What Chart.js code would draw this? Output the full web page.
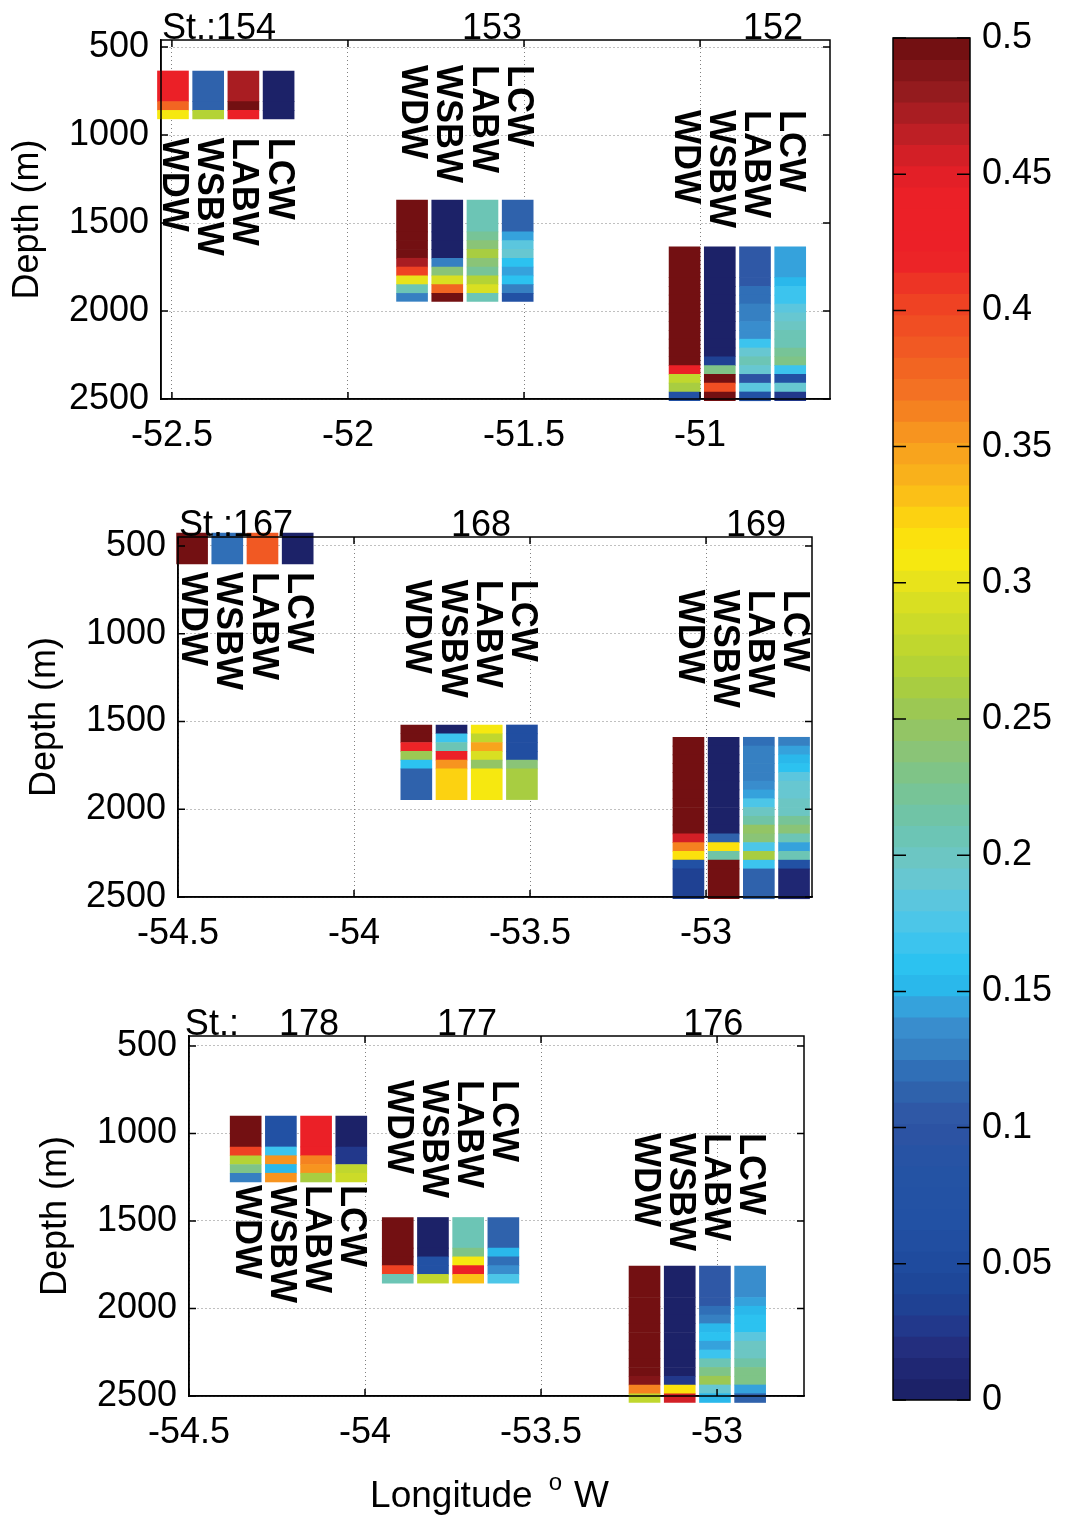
<!DOCTYPE html>
<html>
<head>
<meta charset="utf-8">
<script src="https://cdn.jsdelivr.net/npm/chart.js@4.4.1/dist/chart.umd.min.js"></script>
<style>
  body { margin: 0; background: #fff; }
  #page { position: relative; width: 1066px; height: 1515px; overflow: hidden; background: #fff; }
  canvas { position: absolute; }
</style>
</head>
<body>
<div id="page">
  <canvas id="chart-a" width="880" height="470" style="left:0px;top:0px"></canvas>
  <canvas id="chart-b" width="863" height="470" style="left:17px;top:488px"></canvas>
  <canvas id="chart-c" width="852" height="530" style="left:28px;top:985px"></canvas>
  <canvas id="chart-cb" width="186" height="1450" style="left:880px;top:0px"></canvas>
</div>
<script>
const FONT = '"Liberation Sans", Arial, Helvetica, sans-serif';

// four water-mass columns drawn side by side at each station
const waterMasses = ['WDW', 'WSBW', 'LABW', 'LCW'];
const columnSpacing = 0.1; // degrees of longitude between columns

// ---------- section A : stations 154, 153, 152 ----------
const st154Lon = -52.497;
const st154Edges = [636, 810, 860, 908];
const st154Cols = [
    [0.44, 0.375, 0.305],
    [0.11, 0.11, 0.27],
    [0.47, 0.5, 0.44],
    [0.005, 0.005, 0.005]
];
const st154LabelDepth = 1015;

const st153Lon = -51.818;
const st153Edges = [1370, 1550, 1600, 1650, 1700, 1750, 1800, 1850, 1900, 1945];
const st153Cols = [
    [0.5, 0.5, 0.5, 0.5, 0.475, 0.405, 0.3, 0.205, 0.13],
    [0.005, 0.005, 0.005, 0.005, 0.13, 0.235, 0.295, 0.38, 0.5],
    [0.205, 0.22, 0.24, 0.265, 0.235, 0.22, 0.27, 0.295, 0.205],
    [0.11, 0.145, 0.18, 0.195, 0.16, 0.145, 0.16, 0.13, 0.065]
];
const st153LabelDepth = 602;

const st152Lon = -51.044;
const st152Edges = [1635, 1810, 1860, 1910, 1960, 2010, 2060, 2110, 2160, 2210, 2260, 2310, 2360, 2410, 2460, 2510];
const st152Cols = [
    [0.5, 0.5, 0.5, 0.5, 0.5, 0.5, 0.5, 0.5, 0.5, 0.5, 0.5, 0.44, 0.28, 0.26, 0.065],
    [0.005, 0.005, 0.005, 0.005, 0.005, 0.005, 0.005, 0.005, 0.005, 0.005, 0.035, 0.23, 0.5, 0.395, 0.5],
    [0.105, 0.105, 0.12, 0.12, 0.13, 0.13, 0.14, 0.14, 0.17, 0.19, 0.21, 0.19, 0.1, 0.18, 0.065],
    [0.145, 0.155, 0.17, 0.17, 0.18, 0.19, 0.2, 0.21, 0.21, 0.225, 0.23, 0.17, 0.065, 0.19, 0.03]
];
const st152LabelDepth = 858;

// ---------- section B : stations 167, 168, 169 ----------
const st167Lon = -54.46;
const st167Edges = [426, 602];
const st167Cols = [[0.5], [0.12], [0.385], [0.005]];
const st167LabelDepth = 648;

const st168Lon = -53.823;
const st168Edges = [1520, 1570, 1620, 1670, 1720, 1770, 1945];
const st168Cols = [
    [0.5, 0.5, 0.42, 0.25, 0.16, 0.11],
    [0.005, 0.17, 0.205, 0.435, 0.355, 0.325],
    [0.31, 0.275, 0.35, 0.295, 0.245, 0.31],
    [0.06, 0.06, 0.06, 0.06, 0.235, 0.265]
];
const st168LabelDepth = 693;

const st169Lon = -53.05;
const st169Edges = [1590, 1640, 1690, 1740, 1790, 1840, 1890, 1940, 1990, 2040, 2090, 2140, 2190, 2240, 2290, 2340, 2510];
const st169Cols = [
    [0.5, 0.5, 0.5, 0.5, 0.5, 0.5, 0.5, 0.5, 0.5, 0.5, 0.5, 0.46, 0.36, 0.315, 0.065, 0.035],
    [0.005, 0.005, 0.005, 0.005, 0.005, 0.005, 0.005, 0.005, 0.005, 0.005, 0.005, 0.11, 0.315, 0.215, 0.5, 0.5],
    [0.12, 0.125, 0.125, 0.13, 0.13, 0.14, 0.145, 0.175, 0.2, 0.215, 0.245, 0.24, 0.175, 0.26, 0.17, 0.11],
    [0.13, 0.145, 0.155, 0.16, 0.18, 0.19, 0.19, 0.2, 0.2, 0.22, 0.24, 0.21, 0.145, 0.21, 0.065, 0.01]
];
const st169LabelDepth = 750;

// ---------- section C : stations 178, 177, 176 ----------
const st178Lon = -54.339;
const st178Edges = [900, 1077, 1127, 1177, 1227, 1277];
const st178Cols = [
    [0.5, 0.405, 0.27, 0.23, 0.125],
    [0.07, 0.17, 0.355, 0.155, 0.355],
    [0.445, 0.43, 0.36, 0.355, 0.26],
    [0.005, 0.03, 0.025, 0.275, 0.285]
];
const st178LabelDepth = 1294;

const st177Lon = -53.907;
const st177Edges = [1480, 1655, 1705, 1755, 1805, 1855];
const st177Cols = [
    [0.5, 0.5, 0.5, 0.405, 0.21],
    [0.005, 0.005, 0.065, 0.065, 0.28],
    [0.205, 0.23, 0.31, 0.43, 0.33],
    [0.11, 0.155, 0.12, 0.14, 0.175]
];
const st177LabelDepth = 694;

const st176Lon = -53.206;
const st176Edges = [1757, 1937, 1987, 2037, 2087, 2137, 2187, 2237, 2287, 2337, 2387, 2437, 2487, 2537];
const st176Cols = [
    [0.5, 0.5, 0.5, 0.5, 0.5, 0.5, 0.5, 0.5, 0.5, 0.5, 0.485, 0.36, 0.28],
    [0.005, 0.005, 0.005, 0.005, 0.005, 0.005, 0.005, 0.005, 0.005, 0.005, 0.03, 0.315, 0.46],
    [0.105, 0.105, 0.12, 0.13, 0.155, 0.16, 0.145, 0.17, 0.205, 0.23, 0.25, 0.19, 0.155],
    [0.135, 0.145, 0.155, 0.16, 0.16, 0.18, 0.2, 0.2, 0.215, 0.23, 0.23, 0.145, 0.11]
];
const st176LabelDepth = 997;

// station names written along the top of each section
const headersA = ['St.:154', '153', '152'];
const headersALon = [-52.366, -51.591, -50.793];
const headersB = ['St.:167', '168', '169'];
const headersBLon = [-54.335, -53.639, -52.858];
const headersC = ['St.:', '178', '177', '176'];
const headersCLon = [-54.435, -54.159, -53.71, -53.011];

// axis ticks
const depthTicks = [500, 1000, 1500, 2000, 2500];
const lonTicksA = [-52.5, -52, -51.5, -51];
const lonTicksBC = [-54.5, -54, -53.5, -53];
const cbTicks = [0, 0.05, 0.1, 0.15, 0.2, 0.25, 0.3, 0.35, 0.4, 0.45, 0.5];

// colormap (64 levels between 0 and 0.5)
const nLevels = 64;
const cMax = 0.5;
const cmapPos = [0, 0.01, 0.02, 0.03, 0.04, 0.05, 0.065, 0.085, 0.1, 0.11, 0.12, 0.13, 0.14, 0.145, 0.15,
    0.16, 0.17, 0.18, 0.19, 0.2, 0.21, 0.22, 0.23, 0.24, 0.25, 0.26, 0.27, 0.28, 0.29, 0.3, 0.31, 0.32,
    0.33, 0.34, 0.35, 0.36, 0.37, 0.38, 0.39, 0.4, 0.41, 0.42, 0.44, 0.45, 0.46, 0.47, 0.48, 0.49, 0.5];
const cmapHex = ['#1b2063', '#1e2670', '#232e7f', '#213c8f', '#1e4597', '#1f4b9e', '#2251a4', '#2453a4',
    '#2e53a3', '#2f5ca8', '#2f6db5', '#3782c4', '#3a93d2', '#35a4dd', '#29b5ea',
    '#2cc2f0', '#40c5ee', '#55c6e4', '#66c7d4', '#6cc6c2', '#6cc4b0', '#74c49c', '#7ec488', '#8cc474',
    '#97c65c', '#a5cc44', '#b5d334', '#c4d82c', '#d3dd24', '#e7e31c', '#f9e90e', '#fcdd0d',
    '#fbc416', '#f9b11b', '#f8a01e', '#f68a1f', '#f37323', '#f26322', '#f05423', '#ef4623', '#ed3425',
    '#ec2027', '#ec2027', '#e21f27', '#cc1f26', '#b01e23', '#951b1e', '#7f1417', '#6b0d0e'];

function hexToRgb(h) {
    return [parseInt(h.slice(1, 3), 16), parseInt(h.slice(3, 5), 16), parseInt(h.slice(5, 7), 16)];
}

function cmapAt(v) {
    let i = 0;
    while (i < cmapPos.length - 2 && v > cmapPos[i + 1]) i++;
    const t = Math.max(0, Math.min(1, (v - cmapPos[i]) / (cmapPos[i + 1] - cmapPos[i])));
    const a = hexToRgb(cmapHex[i]), b = hexToRgb(cmapHex[i + 1]);
    const c = a.map(function (x, k) { return Math.round(x + (b[k] - x) * t); });
    return 'rgb(' + c.join(',') + ')';
}

function levelColor(i) {
    return cmapAt((i + 0.5) / nLevels * cMax);
}

function colorFor(v) {
    let i = Math.floor(v / cMax * nLevels);
    i = Math.max(0, Math.min(nLevels - 1, i));
    return levelColor(i);
}

Chart.defaults.font.family = FONT;
Chart.defaults.font.size = 36;
Chart.defaults.color = '#000';

// frame, inward ticks, station names and rotated water-mass labels
function sectionDecor(cfg) {
    return {
        id: 'sectionDecor',
        afterDatasetsDraw: function (chart) {
            const ctx = chart.ctx;
            const a = chart.chartArea;
            const x = chart.scales.x, y = chart.scales.y;
            ctx.save();
            ctx.strokeStyle = '#000';
            ctx.lineWidth = 1.5;
            ctx.strokeRect(a.left, a.top, a.right - a.left, a.bottom - a.top);

            ctx.beginPath();
            cfg.lonTicks.forEach(function (v) {
                const px = x.getPixelForValue(v);
                ctx.moveTo(px, a.bottom); ctx.lineTo(px, a.bottom - 7);
                ctx.moveTo(px, a.top); ctx.lineTo(px, a.top + 7);
            });
            depthTicks.forEach(function (v) {
                const py = y.getPixelForValue(v);
                ctx.moveTo(a.left, py); ctx.lineTo(a.left + 7, py);
                ctx.moveTo(a.right, py); ctx.lineTo(a.right - 7, py);
            });
            ctx.stroke();

            ctx.fillStyle = '#000';
            ctx.font = '36px ' + FONT;
            ctx.textAlign = 'center';
            ctx.textBaseline = 'alphabetic';
            cfg.headers.forEach(function (h, i) {
                ctx.fillText(h, x.getPixelForValue(cfg.headerLon[i]), a.top - 1);
            });

            ctx.font = 'bold 36px ' + FONT;
            ctx.textAlign = 'left';
            ctx.textBaseline = 'middle';
            cfg.stations.forEach(function (st) {
                waterMasses.forEach(function (name, c) {
                    ctx.save();
                    ctx.translate(x.getPixelForValue(st.lon + c * columnSpacing), y.getPixelForValue(st.labelDepth));
                    ctx.rotate(Math.PI / 2);
                    ctx.fillText(name, 0, 0);
                    ctx.restore();
                });
            });

            if (cfg.lonTitle) {
                // "Longitude  o W" with a raised small o
                const base = a.bottom + 111;
                ctx.textAlign = 'left';
                ctx.textBaseline = 'alphabetic';
                ctx.font = '37px ' + FONT;
                const w1 = ctx.measureText('Longitude').width;
                const w3 = ctx.measureText('W').width;
                ctx.font = '24px ' + FONT;
                const w2 = ctx.measureText('o').width;
                const total = w1 + 16 + w2 + 12 + w3;
                let x0 = (a.left + a.right) / 2 - 7 - total / 2;
                ctx.font = '37px ' + FONT;
                ctx.fillText('Longitude', x0, base);
                x0 += w1 + 16;
                ctx.font = '24px ' + FONT;
                ctx.fillText('o', x0, base - 17);
                x0 += w2 + 12;
                ctx.font = '37px ' + FONT;
                ctx.fillText('W', x0, base);
            }
            ctx.restore();
        }
    };
}

function drawSection(canvasId, cfg) {
    const cells = [];
    const colors = [];
    cfg.stations.forEach(function (st) {
        st.cols.forEach(function (col, c) {
            col.forEach(function (v, k) {
                cells.push({ x: st.lon + c * columnSpacing, y: [st.edges[k], st.edges[k + 1]] });
                colors.push(colorFor(v));
            });
        });
    });

    const ctx = document.getElementById(canvasId).getContext('2d');
    return new Chart(ctx, {
        type: 'bar',
        data: {
            datasets: [{
                data: cells,
                backgroundColor: colors,
                borderWidth: 0,
                barThickness: 31,
                clip: false
            }]
        },
        options: {
            responsive: false,
            animation: false,
            events: [],
            layout: { padding: { left: 0, top: cfg.padTop, right: cfg.padRight, bottom: 0 } },
            plugins: { legend: { display: false }, tooltip: { enabled: false } },
            scales: {
                x: {
                    type: 'linear',
                    min: cfg.lonMin,
                    max: cfg.lonMax,
                    offset: false,
                    afterBuildTicks: function (axis) { axis.ticks = cfg.lonTicks.map(function (v) { return { value: v }; }); },
                    afterFit: function (axis) { axis.height = cfg.xAxisHeight; },
                    grid: { offset: false, color: '#808080', lineWidth: 1, drawTicks: false },
                    border: { display: true, color: '#000', width: 1.5, dash: [1, 3] },
                    ticks: {
                        padding: 15, autoSkip: false, maxRotation: 0, minRotation: 0,
                        callback: function (v) { return String(v); }
                    }
                },
                y: {
                    type: 'linear',
                    reverse: true,
                    min: cfg.depthMin,
                    max: 2500,
                    afterBuildTicks: function (axis) { axis.ticks = depthTicks.map(function (v) { return { value: v }; }); },
                    afterFit: function (axis) { axis.width = 161; },
                    grid: { color: '#808080', lineWidth: 1, drawTicks: false },
                    border: { display: true, color: '#000', width: 1.5, dash: [1, 3] },
                    ticks: {
                        padding: 12, autoSkip: false,
                        callback: function (v) { return String(v); }
                    },
                    title: {
                        display: true,
                        text: 'Depth (m)',
                        font: { size: 36 },
                        padding: { top: 6, bottom: 0 }
                    }
                }
            }
        },
        plugins: [sectionDecor(cfg)]
    });
}

drawSection('chart-a', {
    lonMin: -52.531, lonMax: -50.631, depthMin: 460,
    padTop: 40, padRight: 50, xAxisHeight: 71,
    lonTicks: lonTicksA,
    headers: headersA, headerLon: headersALon,
    stations: [
        { lon: st154Lon, edges: st154Edges, cols: st154Cols, labelDepth: st154LabelDepth },
        { lon: st153Lon, edges: st153Edges, cols: st153Cols, labelDepth: st153LabelDepth },
        { lon: st152Lon, edges: st152Edges, cols: st152Cols, labelDepth: st152LabelDepth }
    ]
});

drawSection('chart-b', {
    lonMin: -54.5, lonMax: -52.699, depthMin: 449,
    padTop: 49, padRight: 68, xAxisHeight: 61,
    lonTicks: lonTicksBC,
    headers: headersB, headerLon: headersBLon,
    stations: [
        { lon: st167Lon, edges: st167Edges, cols: st167Cols, labelDepth: st167LabelDepth },
        { lon: st168Lon, edges: st168Edges, cols: st168Cols, labelDepth: st168LabelDepth },
        { lon: st169Lon, edges: st169Edges, cols: st169Cols, labelDepth: st169LabelDepth }
    ]
});

drawSection('chart-c', {
    lonMin: -54.5, lonMax: -52.753, depthMin: 443,
    padTop: 51, padRight: 76, xAxisHeight: 119,
    lonTicks: lonTicksBC,
    headers: headersC, headerLon: headersCLon,
    lonTitle: true,
    stations: [
        { lon: st178Lon, edges: st178Edges, cols: st178Cols, labelDepth: st178LabelDepth },
        { lon: st177Lon, edges: st177Edges, cols: st177Cols, labelDepth: st177LabelDepth },
        { lon: st176Lon, edges: st176Edges, cols: st176Cols, labelDepth: st176LabelDepth }
    ]
});

// colour bar: one band per colormap level
const cbBands = [];
const cbColors = [];
for (let i = 0; i < nLevels; i++) {
    cbBands.push({ x: 0, y: [i * cMax / nLevels, (i + 1) * cMax / nLevels] });
    cbColors.push(levelColor(i));
}

const colorbarFrame = {
    id: 'colorbarFrame',
    afterDatasetsDraw: function (chart) {
        const ctx = chart.ctx;
        const a = chart.chartArea;
        const y = chart.scales.y;
        ctx.save();
        ctx.strokeStyle = '#000';
        ctx.lineWidth = 1.5;
        ctx.strokeRect(a.left, a.top, a.right - a.left, a.bottom - a.top);
        ctx.beginPath();
        cbTicks.forEach(function (v) {
            const py = y.getPixelForValue(v);
            ctx.moveTo(a.left, py); ctx.lineTo(a.left + 13, py);
            ctx.moveTo(a.right, py); ctx.lineTo(a.right - 13, py);
        });
        ctx.stroke();
        ctx.restore();
    }
};

new Chart(document.getElementById('chart-cb').getContext('2d'), {
    type: 'bar',
    data: {
        datasets: [{
            data: cbBands,
            backgroundColor: cbColors,
            borderWidth: 0,
            barThickness: 77,
            inflateAmount: 0.6
        }]
    },
    options: {
        responsive: false,
        animation: false,
        events: [],
        layout: { padding: { left: 13, top: 38, right: 0, bottom: 50 } },
        plugins: { legend: { display: false }, tooltip: { enabled: false } },
        scales: {
            x: { type: 'linear', display: false, min: -1, max: 1, offset: false, grid: { offset: false } },
            y: {
                type: 'linear',
                position: 'right',
                min: 0,
                max: 0.5,
                afterBuildTicks: function (axis) { axis.ticks = cbTicks.map(function (v) { return { value: v }; }); },
                afterFit: function (axis) { axis.width = 96; },
                grid: { display: false, drawTicks: false },
                border: { display: false },
                ticks: {
                    padding: 12, autoSkip: false,
                    callback: function (v) { return String(+v.toFixed(2)); }
                }
            }
        }
    },
    plugins: [colorbarFrame]
});
</script>
</body>
</html>
